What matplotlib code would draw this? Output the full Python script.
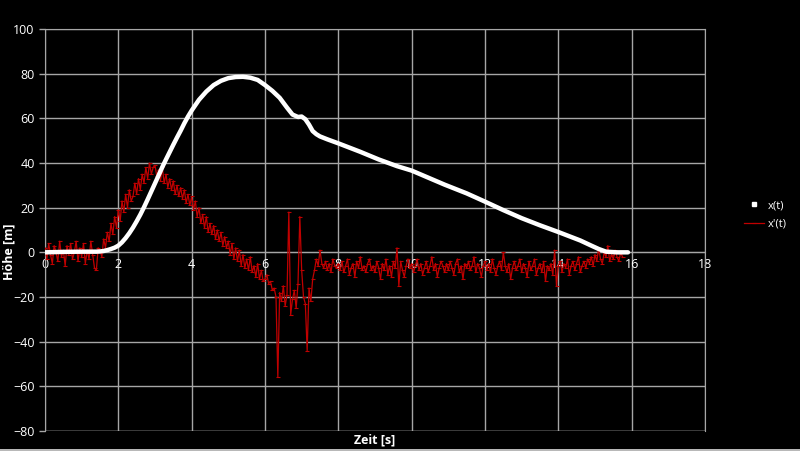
import numpy as np
import matplotlib
matplotlib.use("Agg")
import matplotlib.pyplot as plt
from matplotlib.lines import Line2D
from matplotlib.patches import Rectangle

# x(t): position
t_pos = [0.0, 0.5, 1.0, 1.4, 1.5, 1.6, 1.7, 1.8, 1.9, 2.0, 2.1, 2.2, 2.3, 2.4,
         2.5, 2.6, 2.7, 2.8, 2.9, 3.0, 3.1, 3.2, 3.3, 3.4, 3.5, 3.6, 3.7, 3.8,
         3.9, 4.0, 4.2, 4.4, 4.6, 4.8, 5.0, 5.2, 5.4, 5.6, 5.8, 6.0, 6.2, 6.4,
         6.6, 6.75, 6.9, 7.0, 7.1, 7.2, 7.3, 7.4, 7.5, 7.7, 8.0, 8.3, 8.6,
         9.1, 9.6, 10.0, 10.3, 10.9, 11.5, 12.0, 12.5, 13.0, 13.5, 14.0,
         14.3, 14.6, 14.9, 15.1, 15.3, 15.6, 15.9]
x_pos = [0.0, 0.2, 0.3, 0.3, 0.4, 0.6, 1.0, 1.5, 2.1, 3.0, 4.5, 6.4, 8.6, 11.1,
         13.9, 16.9, 20.2, 23.7, 27.3, 30.9, 34.5, 38.2, 41.6, 44.9, 48.2, 51.4,
         54.5, 57.8, 60.8, 63.5, 68.3, 72.0, 74.9, 76.8, 78.0, 78.5, 78.6, 78.2,
         77.2, 74.9, 72.3, 69.2, 64.8, 61.7, 60.6, 60.8, 59.6, 57.2, 54.3, 52.9,
         51.9, 50.6, 48.8, 46.9, 45.0, 41.6, 38.6, 36.6, 34.5, 30.3, 26.4, 22.7,
         18.9, 15.3, 12.1, 9.1, 7.2, 5.3, 3.0, 1.5, 0.3, 0.0, 0.0]

# x'(t): velocity, sampled every 0.05 s (one row = one second)
dt_vel = 0.05
v_vals = [
    2, -3, 4, -1, -5, 3, 0, -4, 5, -2, 1, -6, 3, -1, 4, -3, 0, 5, -4, 2,
    -2, 4, -5, 1, -3, 5, -1, -7, -8, 2, 1, -2, 6, 2, 9, 5, 13, 8, 16, 11,
    19, 14, 23, 18, 26, 20, 28, 23, 25, 31, 26, 33, 28, 35, 31, 38, 33, 40, 35, 38,
    39, 34, 37, 32, 38, 31, 35, 29, 33, 28, 32, 26, 30, 25, 29, 24, 28, 22, 26, 21,
    25, 19, 23, 16, 20, 13, 17, 11, 16, 9, 13, 8, 12, 6, 10, 5, 9, 3, 7, 2,
    5, -1, 4, -3, 2, -4, 1, -6, -1, -7, -3, -8, -2, -9, -6, -11, -5, -12, -8, -13,
    -12, -10, -14, -13, -17, -16, -20, -56, -18, -22, -15, -24, -19, 18, -28, -21, -17, -25, -14, 16,
    -8, -20, -23, -44, -16, -22, -12, -8, -3, -6, 1, -5, -7, -4, -8, -5, -9, -3, -6, -7,
    -5, -8, -4, -9, -6, -3, -10, -7, -5, -11, -4, -7, -2, -8, -6, -9, -5, -3, -8, -6,
    -9, -4, -7, -12, -5, -8, -3, -10, -6, -11, -4, -7, 2, -15, -4, -8, -11, -6, -3, -7,
    -5, -9, -6, -3, -8, -5, -10, -7, -4, -9, -6, -2, -8, -5, -11, -7, -4, -6, -9, -5,
    -8, -4, -7, -10, -5, -3, -9, -6, -12, -5, -7, -4, -8, -6, -2, -9, -5, -7, -11, -6,
    -4, -8, -5, -9, -3, -7, -10, -6, -4, -8, 0, -6, -9, -5, -12, -7, -4, -8, -6, -3,
    -9, -5, -7, -11, -4, -8, -6, -3, -10, -7, -5, -9, -4, -13, -6, -8, -5, -10, 1, -15,
    -6, -4, -9, -5, -7, -3, -10, -6, -4, -8, -5, -2, -9, -6, -4, -7, -3, -5, -2, -6,
    -1, -4, 2, -3, -5, 0, -2, 3, -4, -1, -3, 1, -2, -4, 0, -2,
]
t_vel = np.arange(len(v_vals)) * dt_vel

GRID = '#a6a6a6'
RED = '#c00000'

fig = plt.figure(figsize=(8.0, 4.51), dpi=100)
fig.patch.set_facecolor('black')
ax = fig.add_axes([45 / 800, 20 / 451, 660 / 800, 402 / 451])
ax.set_facecolor('black')

ax.plot(t_vel, v_vals, color=RED, lw=0.9, marker='_', markersize=3,
        markeredgewidth=0.8, zorder=3)
ax.plot(t_pos, x_pos, color='white', lw=3.2, solid_capstyle='round',
        solid_joinstyle='round', zorder=4)

ax.set_xlim(0, 18)
ax.set_ylim(-80, 100)
ax.set_xticks(np.arange(0, 19, 2))
ax.set_yticks(np.arange(-80, 101, 20))
ax.grid(True, color=GRID, lw=1.0, zorder=1)

for side in ['top', 'right', 'left']:
    ax.spines[side].set_color(GRID)
ax.spines['bottom'].set_position(('data', 0))
ax.spines['bottom'].set_color(GRID)
# bottom frame line at -80 (the spine moved to y=0)
ax.axhline(-80, color=GRID, lw=1.0, zorder=1)

ax.tick_params(axis='y', colors=GRID, length=4, width=1, labelcolor='white',
               labelsize=9)
ax.tick_params(axis='x', length=0, labelcolor='white', labelsize=9, pad=4)
for lab in ax.get_xticklabels() + ax.get_yticklabels():
    lab.set_family('Open Sans')

fig.text(375 / 800, 1 - 440 / 451, 'Zeit [s]', color='white', fontsize=9,
         fontweight='bold', family='Open Sans', ha='center', va='center')
fig.text(9 / 800, 1 - 252 / 451, 'Höhe [m]', color='white', fontsize=9,
         fontweight='bold', family='Open Sans', ha='center', va='center',
         rotation=90)

handles = [
    Line2D([], [], color='white', marker='s', ls='none', markersize=3),
    Line2D([], [], color=RED, lw=0.9, marker='_', markersize=3,
           markeredgewidth=0.8),
]
fig.legend(handles, ['x(t)', "x'(t)"], loc='center left',
           bbox_to_anchor=(742 / 800, 1 - 215 / 451), frameon=False,
           labelcolor='white', prop={'family': 'Open Sans', 'size': 8},
           handlelength=1.8, handletextpad=0.3, labelspacing=0.7,
           borderpad=0.2, borderaxespad=0)

# light grey border along the bottom of the window
fig.add_artist(Rectangle((0, 0), 1, 2 / 451, transform=fig.transFigure,
                         facecolor='#b8b8b8', edgecolor='none'))

fig.savefig('out.png', dpi=100, facecolor='black')
